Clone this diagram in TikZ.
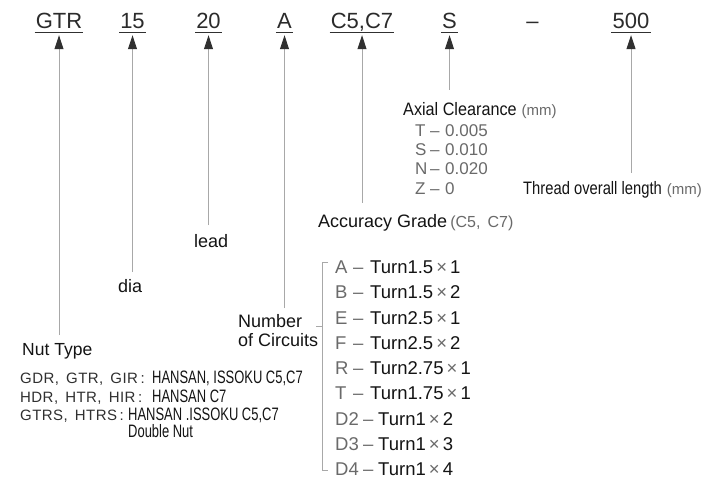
\documentclass[tikz,border=0pt]{standalone}
\usepackage{fontspec}
\setmainfont{Liberation Sans}
\newfontfamily\cndA[FakeStretch=0.72]{Liberation Sans}
\newfontfamily\cndB[FakeStretch=0.82]{Liberation Sans}
\newfontfamily\cndC[FakeStretch=0.9]{Liberation Sans}
\newfontfamily\wde[LetterSpace=3]{Liberation Sans}
\usetikzlibrary{arrows.meta}
\definecolor{lin}{HTML}{A8A8A8}
\definecolor{hd}{HTML}{303030}
\definecolor{ink}{HTML}{141414}
\definecolor{gry}{HTML}{6A6A6A}
\definecolor{topc}{HTML}{2B2B2B}
\newcommand{\fsz}[1]{\fontsize{#1}{#1}\selectfont}
\newcommand{\crow}[5]{\makebox[#1][l]{\color{gry}#2}\makebox[#3][l]{\color{gry}--}#4{\color{gry}\,\texttimes\,}#5}
\newcommand{\arow}[2]{\makebox[15pt][l]{#1}\makebox[15pt][l]{--}#2}
\begin{document}
\begin{tikzpicture}[x=1pt,y=-1pt,
  toplab/.style={anchor=base, inner xsep=1pt, inner ysep=0pt, text depth=0pt, font=\fsz{22}, text=topc},
  uline/.style={draw=hd, line width=0.8pt},
  leader/.style={draw=lin, line width=1pt, -{Triangle[length=14pt,width=9pt,color=hd]}},
  txt/.style={anchor=base west, inner sep=0pt, text=ink, font=\fsz{18}},
  gtxt/.style={anchor=base west, inner sep=0pt, text=gry, font=\fsz{17}},
  nutl/.style={anchor=base west, inner sep=0pt, text=hd, font=\wde\fsz{15}},
  nutr/.style={anchor=base west, inner sep=0pt, text=ink, font=\cndA\fsz{18}},
  brk/.style={draw=lin, line width=1pt}]
\useasboundingbox[fill=white] (0,0) rectangle (717,481);

% top code
\node[toplab] (gtr) at (59,29) {GTR};
\node[toplab] (dia) at (132.5,29) {15};
\node[toplab] (ld) at (208.5,29) {20};
\node[toplab] (ckt) at (284.5,29) {A};
\node[toplab] (acc) at (362,29) {C5,C7};
\node[toplab] (cl) at (449.5,29) {S};
\node[toplab] (dsh) at (532.5,29) {--};
\node[toplab] (len) at (631,29) {500};
\foreach \n in {gtr,dia,ld,ckt,acc,cl,len}
  \draw[uline] ([yshift=-3.5pt]\n.south west) -- ([yshift=-3.5pt]\n.south east);

% end points of leaders
\coordinate (egtr) at (gtr.south |- 0,335);
\coordinate (edia) at (dia.south |- 0,272);
\coordinate (eld) at (ld.south |- 0,225);
\coordinate (eckt) at (ckt.south |- 0,308);
\coordinate (eacc) at (acc.south |- 0,203);
\coordinate (ecl) at (cl.south |- 0,90);
\coordinate (elen) at (len.south |- 0,173);
\foreach \n in {gtr,dia,ld,ckt,acc,cl,len}
  \draw[leader] (e\n) -- ([yshift=-6pt]\n.south);

% labels
\node[txt] (tnut) at (22,355) {\fsz{17.5}Nut Type};
\node[txt] (tdia) at (118,292) {dia};
\node[txt] (tld) at (194,247) {lead};
\node[txt, align=left, font=\fontsize{18}{19.5}\selectfont] (tckt) at (238,346.5) {Number\\of Circuits};
\node[txt] (tacc) at (318,227) {Accuracy Grade\,{\color{gry}\fsz{16}(C5,\, C7)}};
\node[txt] (tcl) at (403,116) {{\cndC Axial Clearance} {\color{gry}\fsz{15}(mm)}};
\node[txt] (tlen) at (523,195) {{\cndB Thread overall length} {\color{gry}\fsz{15}(mm)}};

% axial clearance values
\node[gtxt] (ct) at (415,137) {\arow{T}{0.005}};
\node[gtxt] (cs) at (415,156) {\arow{S}{0.010}};
\node[gtxt] (cn) at (415,175) {\arow{N}{0.020}};
\node[gtxt] (cz) at (415,194) {\arow{Z}{0}};

% circuits list
\begin{scope}[every node/.style={txt, font=\fsz{18.5}}]
\node (r1) at (335,273) {\crow{18pt}{A}{17pt}{Turn1.5}{1}};
\node (r2) at (335,298.5) {\crow{18pt}{B}{17pt}{Turn1.5}{2}};
\node (r3) at (335,324) {\crow{18pt}{E}{17pt}{Turn2.5}{1}};
\node (r4) at (335,349.5) {\crow{18pt}{F}{17pt}{Turn2.5}{2}};
\node (r5) at (335,374.5) {\crow{18pt}{R}{17pt}{Turn2.75}{1}};
\node (r6) at (335,399.5) {\crow{18pt}{T}{17pt}{Turn1.75}{1}};
\node (r7) at (335,425) {\crow{28pt}{D2}{15pt}{Turn1}{2}};
\node (r8) at (335,450) {\crow{28pt}{D3}{15pt}{Turn1}{3}};
\node (r9) at (335,475) {\crow{28pt}{D4}{15pt}{Turn1}{4}};
\end{scope}
\coordinate (btop) at (322,262);
\coordinate (bbot) at (322,470);
\coordinate (bmid) at (322,326);
\draw[brk] ([xshift=6pt]btop) -- (btop) -- (bbot) -- ([xshift=6pt]bbot);
\draw[brk] ([xshift=-2pt]tckt.east |- bmid) -- (bmid);

% nut types
\node[nutl] (n1l) at (20,383) {GDR,\, GTR,\, GIR\,:};
\node[nutr] (n1r) at (152,383) {HANSAN, ISSOKU C5,C7};
\node[nutl] (n2l) at (20,402) {HDR,\, HTR,\, HIR\,:};
\node[nutr] (n2r) at (152,402) {HANSAN C7};
\node[nutl] (n3l) at (20,420) {GTRS,\, HTRS\,:};
\node[nutr, align=left, font=\cndA\fontsize{18}{17.5}\selectfont] (n3r) at (128,437.5) {HANSAN .ISSOKU C5,C7\\Double Nut};
\end{tikzpicture}
\end{document}
